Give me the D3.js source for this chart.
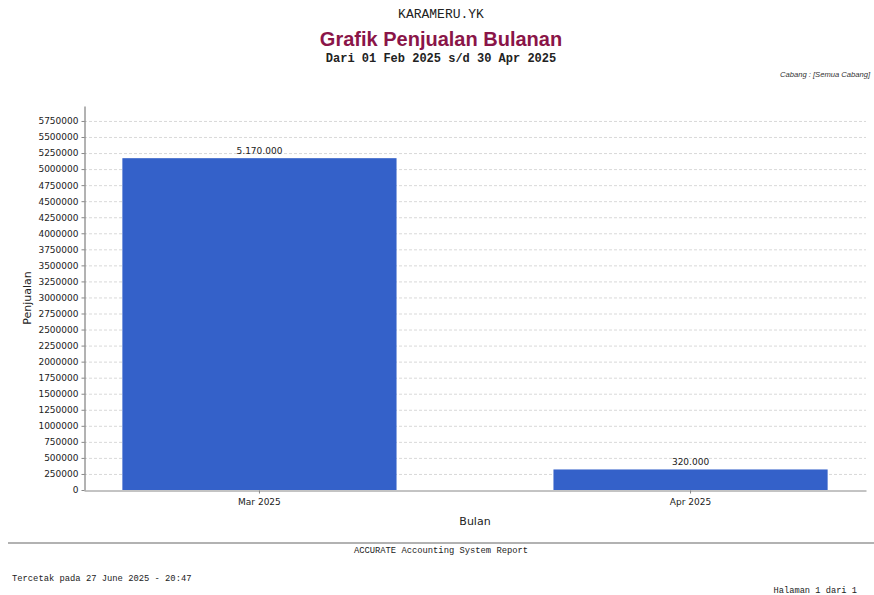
<!DOCTYPE html>
<html>
<head>
<meta charset="utf-8">
<script src="https://cdn.jsdelivr.net/npm/d3@7"></script>
<style>
  html, body { margin: 0; padding: 0; background: #fff; }
  svg { display: block; }
</style>
</head>
<body>
<svg id="chart" width="874" height="595"></svg>
<script>
const categories = ["Mar 2025", "Apr 2025"];
const values = [5170000, 320000];
const valueLabels = ["5.170.000", "320.000"];
const yTicks = [0,250000,500000,750000,1000000,1250000,1500000,1750000,2000000,2250000,2500000,2750000,3000000,3250000,3500000,3750000,4000000,4250000,4500000,4750000,5000000,5250000,5500000,5750000];
const yMax = 5983000;

const svg = d3.select("#chart");
const plot = { left: 84, right: 866, top: 106, bottom: 490 };
const mono = "'Liberation Mono', 'DejaVu Sans Mono', monospace";

// Header
svg.append("text").attr("x", 441).attr("y", 18).attr("text-anchor", "middle")
  .style("font-family", mono).style("font-size", "13px")
  .attr("fill", "#222").text("KARAMERU.YK");
svg.append("text").attr("x", 441).attr("y", 46).attr("text-anchor", "middle")
  .style("font-family", "'Liberation Sans', Arial, sans-serif").style("font-size", "20px")
  .style("font-weight", "bold").attr("fill", "#8a1548").text("Grafik Penjualan Bulanan");
svg.append("text").attr("x", 441).attr("y", 62).attr("text-anchor", "middle")
  .style("font-family", mono).style("font-size", "12px")
  .style("font-weight", "bold").attr("fill", "#222").text("Dari 01 Feb 2025 s/d 30 Apr 2025");
svg.append("text").attr("x", 870).attr("y", 77).attr("text-anchor", "end")
  .style("font-family", "'Liberation Sans', Arial, sans-serif").style("font-size", "7.6px")
  .style("font-style", "italic").attr("fill", "#333").text("Cabang : [Semua Cabang]");

// Scales
const x = d3.scaleBand().domain(categories).range([plot.left, plot.right])
  .paddingInner(0.364).paddingOuter(0.089);
const y = d3.scaleLinear().domain([0, yMax]).range([plot.bottom, plot.top]);

// Grid
svg.append("g").selectAll("line").data(yTicks.filter(d => d > 0)).join("line")
  .attr("x1", plot.left).attr("x2", plot.right)
  .attr("y1", d => y(d) + 0.5).attr("y2", d => y(d) + 0.5)
  .attr("stroke", "#cfcfcf").attr("stroke-width", 0.8).attr("stroke-dasharray", "3,2");

// Bars
svg.append("g").selectAll("rect").data(values).join("rect")
  .attr("x", (d, i) => x(categories[i])).attr("width", x.bandwidth())
  .attr("y", d => y(d)).attr("height", d => plot.bottom - y(d))
  .attr("fill", "#3461c9");

// Value labels
svg.append("g").selectAll("text").data(values).join("text")
  .attr("x", (d, i) => x(categories[i]) + x.bandwidth() / 2)
  .attr("y", d => y(d) - 4).attr("text-anchor", "middle")
  .style("font-family", "'DejaVu Sans', sans-serif").style("font-size", "9px")
  .attr("fill", "#222").text((d, i) => valueLabels[i]);

// Y axis
const yAxis = d3.axisLeft(y).tickValues(yTicks).tickFormat(d3.format("d")).tickSize(3).tickSizeOuter(0);
const gy = svg.append("g").attr("transform", `translate(${plot.left + 0.5},0)`).call(yAxis);
gy.select(".domain").attr("stroke", "#666");
gy.selectAll(".tick line").attr("stroke", "#888");
gy.selectAll(".tick text").style("font-family", "'DejaVu Sans', sans-serif").style("font-size", "9px").attr("fill", "#222").attr("x", -6);

// X axis
const xAxis = d3.axisBottom(x).tickSize(3).tickSizeOuter(0);
const gx = svg.append("g").attr("transform", `translate(0,${plot.bottom + 0.5})`).call(xAxis);
gx.select(".domain").attr("stroke", "#888");
gx.selectAll(".tick line").attr("stroke", "#888");
gx.selectAll(".tick text").style("font-family", "'DejaVu Sans', sans-serif").style("font-size", "9px").attr("fill", "#222").attr("dy", "0.9em");

// Axis titles
svg.append("text").attr("x", 475).attr("y", 525).attr("text-anchor", "middle")
  .style("font-family", "'DejaVu Sans', sans-serif").style("font-size", "11px").attr("fill", "#222").text("Bulan");
svg.append("text").attr("transform", "translate(31,298) rotate(-90)").attr("text-anchor", "middle")
  .style("font-family", "'DejaVu Sans', sans-serif").style("font-size", "11px").attr("fill", "#222").text("Penjualan");

// Footer
svg.append("line").attr("x1", 8).attr("x2", 874).attr("y1", 543).attr("y2", 543)
  .attr("stroke", "#999").attr("stroke-width", 1.5);
svg.append("text").attr("x", 441).attr("y", 553).attr("text-anchor", "middle")
  .style("font-family", mono).style("font-size", "8.8px").attr("fill", "#222").text("ACCURATE Accounting System Report");
svg.append("text").attr("x", 12).attr("y", 581)
  .style("font-family", mono).style("font-size", "8.8px").attr("fill", "#222").text("Tercetak pada 27 June 2025 - 20:47");
svg.append("text").attr("x", 857).attr("y", 593).attr("text-anchor", "end")
  .style("font-family", mono).style("font-size", "8.7px").attr("fill", "#222").text("Halaman 1 dari 1");
</script>
</body>
</html>
